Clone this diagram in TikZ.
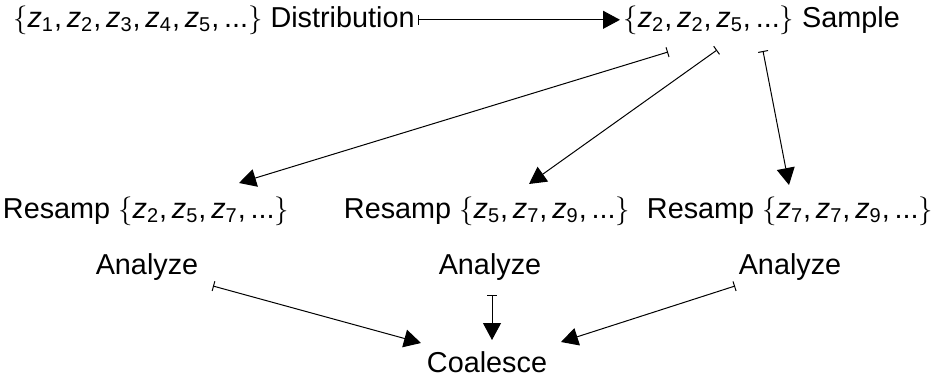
\documentclass[tikz,border=0pt]{standalone}
\usepackage{fontspec}
\setmainfont{Liberation Sans}
\usepackage{tikz}
\usetikzlibrary{arrows.meta,positioning}

\newcommand{\zs}[1]{\textit{z}\textsubscript{#1}}

\begin{document}
\begin{tikzpicture}[x=0.5pt, y=-0.5pt]
% Define styles
\tikzstyle{lbl} = [inner sep=1.5pt, font=\fontsize{14.4}{17}\selectfont]
\tikzstyle{arrow} = [line width=0.5pt, {Bar[width=5pt]}-{Triangle[length=8.5pt,width=9pt]}]

\useasboundingbox (0,0) rectangle (936,376);

% Define nodes
\node (dist) [lbl, anchor=base east] at (418,27) {$\{$\zs{1},\,\zs{2},\,\zs{3},\,\zs{4},\,\zs{5},\,...$\}$ Distribution};
\node (sample) [lbl, anchor=base west] at (620,27) {$\{$\zs{2},\,\zs{2},\,\zs{5},\,...$\}$ Sample};
\node (resampa) [lbl, anchor=base] at (146,218) {Resamp $\{$\zs{2},\,\zs{5},\,\zs{7},\,...$\}$};
\node (resampb) [lbl, anchor=base] at (487,218) {Resamp $\{$\zs{5},\,\zs{7},\,\zs{9},\,...$\}$};
\node (resampc) [lbl, anchor=base] at (790,218) {Resamp $\{$\zs{7},\,\zs{7},\,\zs{9},\,...$\}$};
\node (analyzea) [lbl, anchor=base] at (147,274) {Analyze};
\node (analyzeb) [lbl, anchor=base] at (490,274) {Analyze};
\node (analyzec) [lbl, anchor=base] at (790,274) {Analyze};
\node (coalesce) [lbl, anchor=base] at (487,372) {Coalesce};

% Draw arrows
\draw [arrow] (dist.east) -- (sample.west);
\draw [arrow] ([xshift=24pt,yshift=-12.5pt]sample.base west) -- ([xshift=46.5pt,yshift=17.5pt]resampa.base);
\draw [arrow] ([xshift=48.5pt,yshift=-11.5pt]sample.base west) -- ([xshift=21pt,yshift=17pt]resampb.base);
\draw [arrow] ([xshift=71.5pt,yshift=-12pt]sample.base west) -- ([xshift=-0.5pt,yshift=16.5pt]resampc.base);
\draw [arrow] ([xshift=33pt,yshift=-6pt]analyzea.base) -- ([xshift=-33pt,yshift=14.5pt]coalesce.base);
\draw [arrow] ([xshift=1pt,yshift=-10.5pt]analyzeb.base) -- ([xshift=2.5pt,yshift=16pt]coalesce.base);
\draw [arrow] ([xshift=-27.5pt,yshift=-6pt]analyzec.base) -- ([xshift=37pt,yshift=15pt]coalesce.base);
\end{tikzpicture}
\end{document}
